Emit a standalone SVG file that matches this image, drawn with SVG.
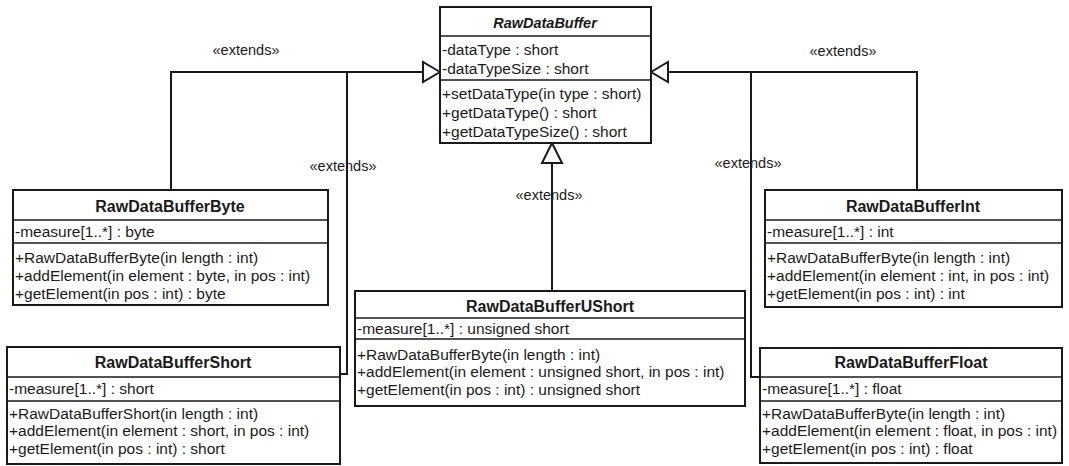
<svg xmlns="http://www.w3.org/2000/svg" width="1069" height="466" viewBox="0 0 1069 466">
<style>
text{font-family:"Liberation Sans",Arial,sans-serif;font-size:15.5px;fill:#1a1a1a}
.t{font-weight:bold;text-anchor:middle;font-size:16px}
.ti{font-weight:bold;font-style:italic;text-anchor:middle;font-size:14.5px}
.box{fill:#fff;stroke:#1a1a1a;stroke-width:2}
.sep{stroke:#1a1a1a;stroke-width:1.6}
.ln{fill:none;stroke:#1a1a1a;stroke-width:2}
.ar{fill:#fff;stroke:#1a1a1a;stroke-width:2}
.lb{text-anchor:middle;font-size:14.5px}
</style>
<rect width="1069" height="466" fill="#fff"/>
<g id="connectors">
<path class="ln" d="M171,190 V72 H423"/>
<path class="ln" d="M340,374 H347 V72"/>
<path class="ln" d="M917,190 V72 H668"/>
<path class="ln" d="M760,377 H751 V72"/>
<path class="ln" d="M552,291 V163"/>
<polygon class="ar" points="440,72 423,62 423,82"/>
<polygon class="ar" points="651,72 668,62 668,82"/>
<polygon class="ar" points="552,143 542,163 562,163"/>
<text class="lb" x="246" y="55">«extends»</text>
<text class="lb" x="343" y="171">«extends»</text>
<text class="lb" x="843" y="56">«extends»</text>
<text class="lb" x="748" y="168">«extends»</text>
<text class="lb" x="549" y="200">«extends»</text>
</g>
<g id="RawDataBuffer">
<rect class="box" x="440" y="7" width="211" height="136"/>
<line class="sep" x1="440" y1="36" x2="651" y2="36"/>
<line class="sep" x1="440" y1="80" x2="651" y2="80"/>
<text class="ti" x="545" y="28">RawDataBuffer</text>
<text x="442" y="55">-dataType : short</text>
<text x="442" y="74">-dataTypeSize : short</text>
<text x="442" y="99">+setDataType(in type : short)</text>
<text x="442" y="118">+getDataType() : short</text>
<text x="442" y="137">+getDataTypeSize() : short</text>
</g>
<g id="RawDataBufferByte">
<rect class="box" x="13" y="190" width="315" height="115"/>
<line class="sep" x1="13" y1="220" x2="328" y2="220"/>
<line class="sep" x1="13" y1="243" x2="328" y2="243"/>
<text class="t" x="170" y="212">RawDataBufferByte</text>
<text x="15" y="237">-measure[1..*] : byte</text>
<text x="15" y="263">+RawDataBufferByte(in length : int)</text>
<text x="15" y="281">+addElement(in element : byte, in pos : int)</text>
<text x="15" y="299">+getElement(in pos : int) : byte</text>
</g>
<g id="RawDataBufferInt">
<rect class="box" x="765" y="190" width="297" height="117"/>
<line class="sep" x1="765" y1="220" x2="1062" y2="220"/>
<line class="sep" x1="765" y1="243" x2="1062" y2="243"/>
<text class="t" x="913" y="212">RawDataBufferInt</text>
<text x="767" y="237">-measure[1..*] : int</text>
<text x="767" y="263">+RawDataBufferByte(in length : int)</text>
<text x="767" y="281">+addElement(in element : int, in pos : int)</text>
<text x="767" y="299">+getElement(in pos : int) : int</text>
</g>
<g id="RawDataBufferUShort">
<rect class="box" x="355" y="291" width="390" height="115"/>
<line class="sep" x1="355" y1="318" x2="745" y2="318"/>
<line class="sep" x1="355" y1="339" x2="745" y2="339"/>
<text class="t" x="550" y="312">RawDataBufferUShort</text>
<text x="357" y="334">-measure[1..*] : unsigned short</text>
<text x="357" y="360">+RawDataBufferByte(in length : int)</text>
<text x="357" y="377">+addElement(in element : unsigned short, in pos : int)</text>
<text x="357" y="395">+getElement(in pos : int) : unsigned short</text>
</g>
<g id="RawDataBufferShort">
<rect class="box" x="7" y="347" width="333" height="117"/>
<line class="sep" x1="7" y1="377" x2="340" y2="377"/>
<line class="sep" x1="7" y1="401" x2="340" y2="401"/>
<text class="t" x="173" y="368">RawDataBufferShort</text>
<text x="9" y="394">-measure[1..*] : short</text>
<text x="9" y="419">+RawDataBufferShort(in length : int)</text>
<text x="9" y="436">+addElement(in element : short, in pos : int)</text>
<text x="9" y="454">+getElement(in pos : int) : short</text>
</g>
<g id="RawDataBufferFloat">
<rect class="box" x="760" y="348" width="302" height="115"/>
<line class="sep" x1="760" y1="377" x2="1062" y2="377"/>
<line class="sep" x1="760" y1="401" x2="1062" y2="401"/>
<text class="t" x="911" y="368">RawDataBufferFloat</text>
<text x="762" y="394">-measure[1..*] : float</text>
<text x="762" y="419">+RawDataBufferByte(in length : int)</text>
<text x="762" y="436">+addElement(in element : float, in pos : int)</text>
<text x="762" y="454">+getElement(in pos : int) : float</text>
</g>
</svg>
